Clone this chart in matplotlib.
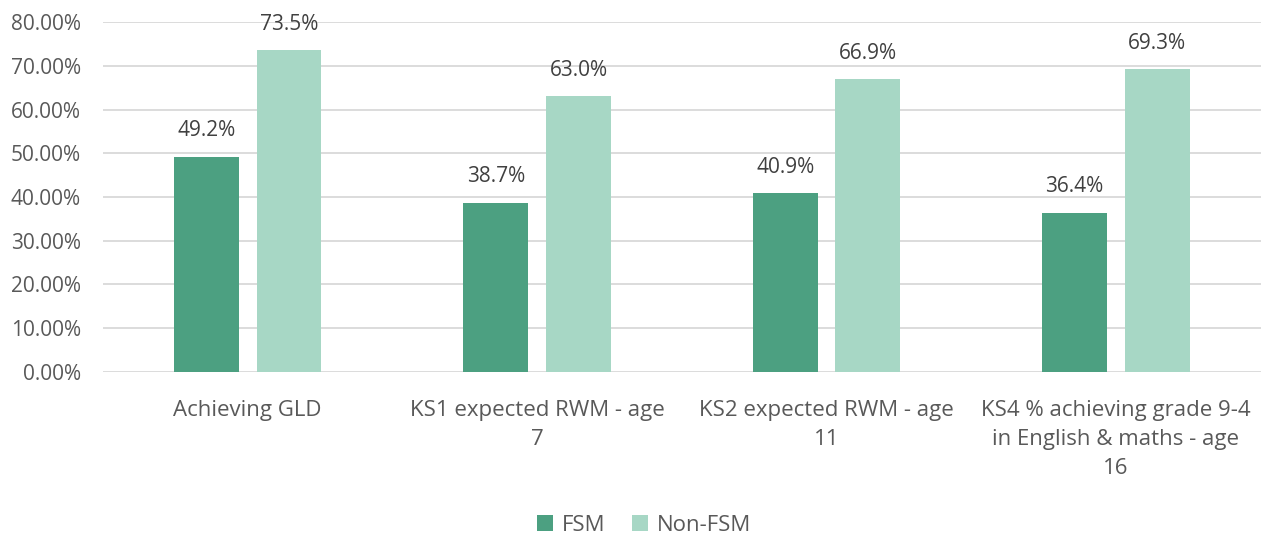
import numpy as np
import matplotlib.pyplot as plt
from matplotlib.ticker import FuncFormatter

categories = ["Achieving GLD", "KS1 expected RWM - age\n7", "KS2 expected RWM - age\n11",
              "KS4 % achieving grade 9-4\nin English & maths - age\n16"]
fsm = [49.2, 38.7, 40.9, 36.4]
non_fsm = [73.5, 63.0, 66.9, 69.3]

c_fsm = "#4CA081"
c_non = "#A7D7C5"
grey = "#595959"

plt.rcParams['font.family'] = ['Open Sans', 'DejaVu Sans']

fig = plt.figure(figsize=(12.68, 5.38), dpi=100)
ax = fig.add_axes([0.0812, 0.3086, 0.913, 0.6504])

x = np.arange(len(categories))
w = 0.224
off = 0.143
b1 = ax.bar(x - off, fsm, w, color=c_fsm, label="FSM", zorder=3)
b2 = ax.bar(x + off, non_fsm, w, color=c_non, label="Non-FSM", zorder=3)

for bars, vals in ((b1, fsm), (b2, non_fsm)):
    for b, v in zip(bars, vals):
        ax.text(b.get_x() + b.get_width() / 2, v + 5.9, f"{v:.1f}%", ha="center", va="center",
                fontsize=15, color="#404040")

ax.set_ylim(0, 80)
ax.set_xlim(-0.5, len(categories) - 0.5)
ax.set_yticks(np.arange(0, 81, 10))
ax.yaxis.set_major_formatter(FuncFormatter(lambda v, _: f"{v:.2f}%"))
ax.grid(axis="y", color="#D9D9D9", linewidth=1.3, zorder=0)
ax.set_xticks(x)
ax.set_xticklabels(categories, fontsize=16, color=grey, linespacing=1.5)
ax.tick_params(axis="y", labelsize=15, labelcolor=grey, length=0, pad=16)
ax.tick_params(axis="x", length=0, pad=20)
for s in ax.spines.values():
    s.set_visible(False)

fig.legend(handles=[b1, b2], loc="center", bbox_to_anchor=(0.508, 0.024), ncol=2, frameon=False,
           fontsize=16, labelcolor=grey, handlelength=0.7, handleheight=0.7, handletextpad=0.4,
           columnspacing=1.2)

fig.savefig("out.png", dpi=100)
